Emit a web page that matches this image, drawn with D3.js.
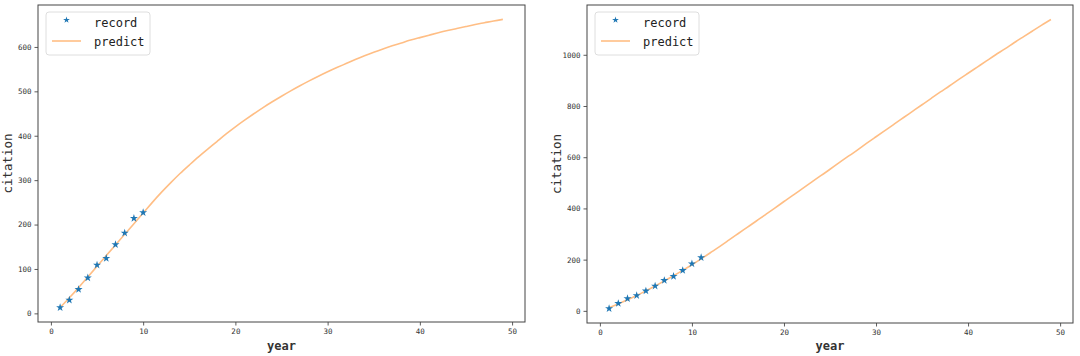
<!DOCTYPE html>
<html>
<head>
<meta charset="utf-8">
<script src="https://cdn.jsdelivr.net/npm/d3@7"></script>
<style>
  html, body { margin: 0; padding: 0; background: #fff; }
  svg { display: block; }
</style>
</head>
<body>
<svg id="chart" width="1080" height="356"></svg>
<script>
// ---- data ----
const recordYearsA = [1, 2, 3, 4, 5, 6, 7, 8, 9, 10];
const recordA = [13, 30, 54, 80, 109, 124, 155, 181, 214, 227];
const recordYearsB = [1, 2, 3, 4, 5, 6, 7, 8, 9, 10, 11];
const recordB = [9, 29, 48, 60, 78, 97, 119, 135, 158, 184, 208];
const predictYears = [1, 2, 3, 4, 5, 6, 7, 8, 9, 10, 11, 12, 13, 14, 15, 16, 17, 18, 19, 20,
  21, 22, 23, 24, 25, 26, 27, 28, 29, 30, 31, 32, 33, 34, 35, 36, 37, 38, 39, 40,
  41, 42, 43, 44, 45, 46, 47, 48, 49];
const predictA = [13, 35, 58, 82, 106, 130, 154, 178, 202, 226, 250, 273, 294.5, 315, 334, 352.5, 370, 387, 404, 420,
  435, 449.5, 463.5, 476.5, 489, 501, 512.5, 523.5, 534, 544, 553.5, 562.5, 571.5, 580, 588, 595.5, 602.5, 609, 615.5, 621,
  626.5, 632, 637, 641.5, 646, 650.5, 654.5, 658.5, 662];
const predictB = [12, 27, 43, 60, 78, 97, 117, 137, 158, 180, 203, 227, 251, 276, 301, 326, 351, 376, 401, 427,
  452, 477, 503, 528, 553, 579, 604, 629, 655, 680, 705, 730, 755, 780, 805, 830, 855, 879, 904, 928,
  952, 976, 1000, 1023, 1047, 1070, 1093, 1116, 1138];
const xTicks = [0, 10, 20, 30, 40, 50];
const yTicksA = [0, 100, 200, 300, 400, 500, 600];
const yTicksB = [0, 200, 400, 600, 800, 1000];
const legendLabels = ["record", "predict"];
const xLabel = "year";
const yLabel = "citation";

// ---- styles ----
const blue = "#1f77b4";
const orange = "#ffbe85";
const monoFont = "'DejaVu Sans Mono', 'Liberation Mono', monospace";

const svg = d3.select("#chart");
svg.append("rect").attr("width", 1080).attr("height", 356).attr("fill", "#fff");

function padDomain(vals) {
  const [lo, hi] = d3.extent(vals);
  const m = (hi - lo) * 0.05;
  return [lo - m, hi + m];
}

function panel(box, recYears, rec, pred, yTicks) {
  const g = svg.append("g");
  const allX = recYears.concat(predictYears);
  const allY = rec.concat(pred);
  const x = d3.scaleLinear().domain(padDomain(allX)).range([box.x0, box.x1]);
  const y = d3.scaleLinear().domain(padDomain(allY)).range([box.y1, box.y0]);

  // axes
  const xAxis = d3.axisBottom(x).tickValues(xTicks).tickSize(3.5).tickPadding(3).tickFormat(d3.format("d"));
  const yAxis = d3.axisLeft(y).tickValues(yTicks).tickSize(3.5).tickPadding(3).tickFormat(d3.format("d"));
  const gx = g.append("g").attr("transform", `translate(0,${box.y1})`).call(xAxis);
  const gy = g.append("g").attr("transform", `translate(${box.x0},0)`).call(yAxis);
  [gx, gy].forEach(a => {
    a.select(".domain").remove();
    a.selectAll(".tick line").attr("stroke", "#333").attr("stroke-width", 0.8);
    a.selectAll(".tick text").attr("fill", "#333").style("font-family", monoFont).style("font-size", "7.5px");
  });

  // prediction line
  const line = d3.line().x((d, i) => x(predictYears[i])).y(d => y(d)).curve(d3.curveNatural);
  g.append("path").datum(pred).attr("d", line).attr("fill", "none")
    .attr("stroke", orange).attr("stroke-width", 1.6);

  // record stars
  const star = d3.symbol().type(d3.symbolStar).size(20);
  g.selectAll(".rec").data(rec).enter().append("path")
    .attr("d", star)
    .attr("transform", (d, i) => `translate(${x(recYears[i])},${y(d)})`)
    .attr("fill", blue);

  // frame
  g.append("rect").attr("x", box.x0).attr("y", box.y0)
    .attr("width", box.x1 - box.x0).attr("height", box.y1 - box.y0)
    .attr("fill", "none").attr("stroke", "#444").attr("stroke-width", 1);

  // axis labels
  g.append("text").attr("x", (box.x0 + box.x1) / 2).attr("y", 350)
    .attr("text-anchor", "middle").style("font-family", monoFont).style("font-size", "12px")
    .style("font-weight", "bold").attr("fill", "#333").text(xLabel);
  g.append("text").attr("transform", `translate(${box.x0 - 26},${(box.y0 + box.y1) / 2}) rotate(-90)`)
    .attr("text-anchor", "middle").style("font-family", monoFont).style("font-size", "12.5px")
    .attr("fill", "#333").text(yLabel);

  // legend
  const lx = box.x0 + 8, ly = box.y0 + 7;
  const lg = g.append("g").attr("transform", `translate(${lx},${ly})`);
  lg.append("rect").attr("width", 104).attr("height", 43).attr("rx", 3)
    .attr("fill", "#fff").attr("fill-opacity", 0.8).attr("stroke", "#d6d6d6").attr("stroke-width", 0.8);
  lg.append("path").attr("d", d3.symbol().type(d3.symbolStar).size(14)).attr("transform", "translate(20.5,8)").attr("fill", blue);
  lg.append("line").attr("x1", 6).attr("x2", 35).attr("y1", 29).attr("y2", 29)
    .attr("stroke", orange).attr("stroke-width", 1.6);
  lg.selectAll(".lt").data(legendLabels).enter().append("text")
    .attr("x", 48).attr("y", (d, i) => 15 + i * 18.5)
    .style("font-family", monoFont).style("font-size", "12px").attr("fill", "#222")
    .text(d => d);
}

panel({x0: 38, x1: 525, y0: 5, y1: 322}, recordYearsA, recordA, predictA, yTicksA);
panel({x0: 587, x1: 1073, y0: 5, y1: 323}, recordYearsB, recordB, predictB, yTicksB);
</script>
</body>
</html>
